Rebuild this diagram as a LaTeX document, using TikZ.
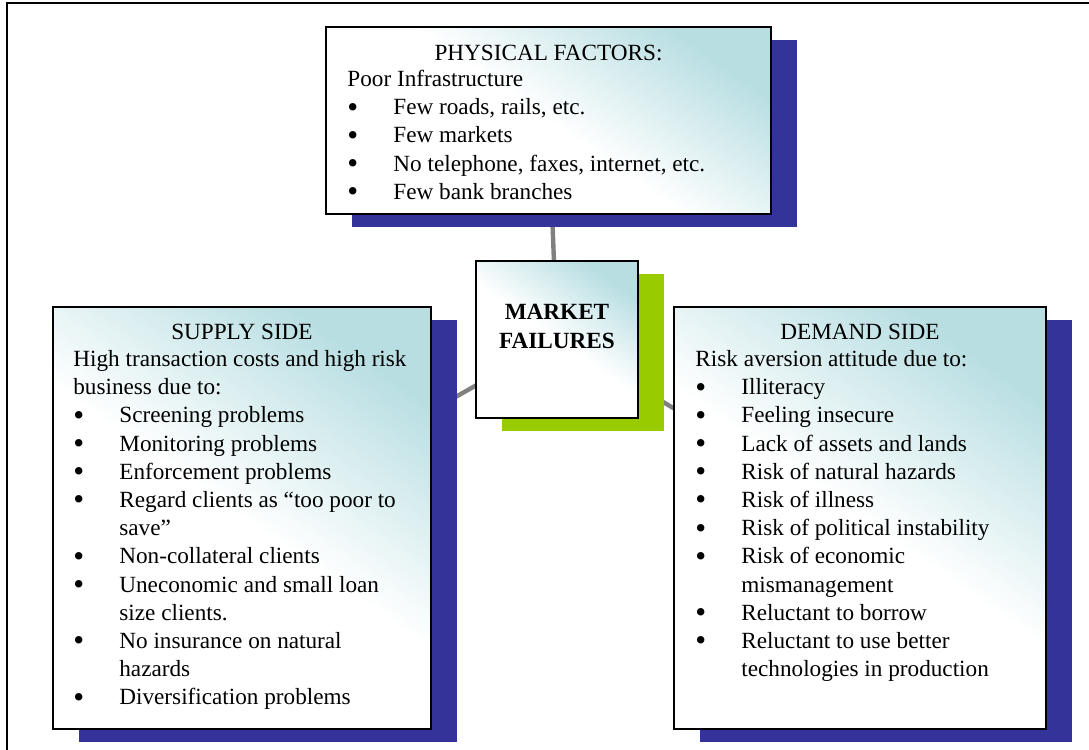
\documentclass[tikz,border=0pt]{standalone}
\usepackage{fontspec}
\setmainfont{Liberation Serif}
\newfontfamily\tnr{Liberation Serif}
\usetikzlibrary{shadows}
\definecolor{teal1}{RGB}{184,222,226}
\definecolor{shblue}{RGB}{51,51,153}
\definecolor{shgreen}{RGB}{153,204,0}
\definecolor{conngray}{RGB}{128,128,128}
\pgfdeclarelayer{bg}
\pgfsetlayers{bg,main}
\newcommand{\bl}{\makebox[23pt][l]{\smash{\raisebox{-1.2pt}{\fontsize{15.5}{14}\selectfont\textbullet}}}}
\newcommand{\ind}{\hspace*{23pt}}
\begin{document}
\begin{tikzpicture}[x=0.5pt,y=-0.5pt,
  box/.style={draw=black, line width=1pt, rectangle, inner sep=0pt,
    top color=teal1, bottom color=white, middle color=white, shading angle=-35},
  shadowb/.style={drop shadow={fill=shblue, opacity=1, shadow xshift=13pt, shadow yshift=-6.5pt}},
  shadowg/.style={drop shadow={fill=shgreen, opacity=1, shadow xshift=13pt, shadow yshift=-6.5pt}},
  conn/.style={draw=conngray, line width=2.2pt},
  txt/.style={font=\tnr\fontsize{11.6}{14.1}\selectfont, inner sep=0pt},
  frame/.style={draw=black, line width=1pt}]
\useasboundingbox (0,0) rectangle (1089,750);
\draw[frame] (7,750) -- (7,3) -- (1089,3);

\node[box, shadowb, minimum width=222.5pt, minimum height=93.5pt] (phys) at (548.5,120.5) {};
\node[box, shadowb, minimum width=189pt, minimum height=211pt] (supply) at (242,518) {};
\node[box, shadowb, minimum width=186pt, minimum height=211pt] (demand) at (860,518) {};
\node[box, shadowg, minimum width=81pt, minimum height=78.5pt] (mf) at (557,339.5) {};

\begin{pgfonlayer}{bg}
\draw[conn] (phys.center) -- (mf.center);
\draw[conn] (mf.center) -- (supply.center);
\draw[conn] (mf.center) -- (demand.center);
\end{pgfonlayer}

\node[txt, anchor=base] (physt) at (548.5,60) {PHYSICAL FACTORS:};
\node[txt, anchor=north west, align=left] (physb) at (347,66.4) {\strut Poor Infrastructure\\
\bl Few roads, rails, etc.\\
\bl Few markets\\
\bl No telephone, faxes, internet, etc.\\
\bl Few bank branches};

\node[txt, anchor=base] (supt) at (242,339) {SUPPLY SIDE};
\node[txt, anchor=north west, align=left] (supb) at (73,346.4) {\strut High transaction costs and high risk\\
business due to:\\
\bl Screening problems\\
\bl Monitoring problems\\
\bl Enforcement problems\\
\bl Regard clients as “too poor to\\
\ind save”\\
\bl Non-collateral clients\\
\bl Uneconomic and small loan\\
\ind size clients.\\
\bl No insurance on natural\\
\ind hazards\\
\bl Diversification problems};

\node[txt, anchor=base] (demt) at (860,339) {DEMAND SIDE};
\node[txt, anchor=north west, align=left] (demb) at (695,346.4) {\strut Risk aversion attitude due to:\\
\bl Illiteracy\\
\bl Feeling insecure\\
\bl Lack of assets and lands\\
\bl Risk of natural hazards\\
\bl Risk of illness\\
\bl Risk of political instability\\
\bl Risk of economic\\
\ind mismanagement\\
\bl Reluctant to borrow\\
\bl Reluctant to use better\\
\ind technologies in production};

\node[txt, font=\tnr\fontsize{11.6}{14.5}\selectfont\bfseries, align=center, anchor=north] (mft) at (557,298.7) {\strut MARKET\\FAILURES};
\end{tikzpicture}
\end{document}
